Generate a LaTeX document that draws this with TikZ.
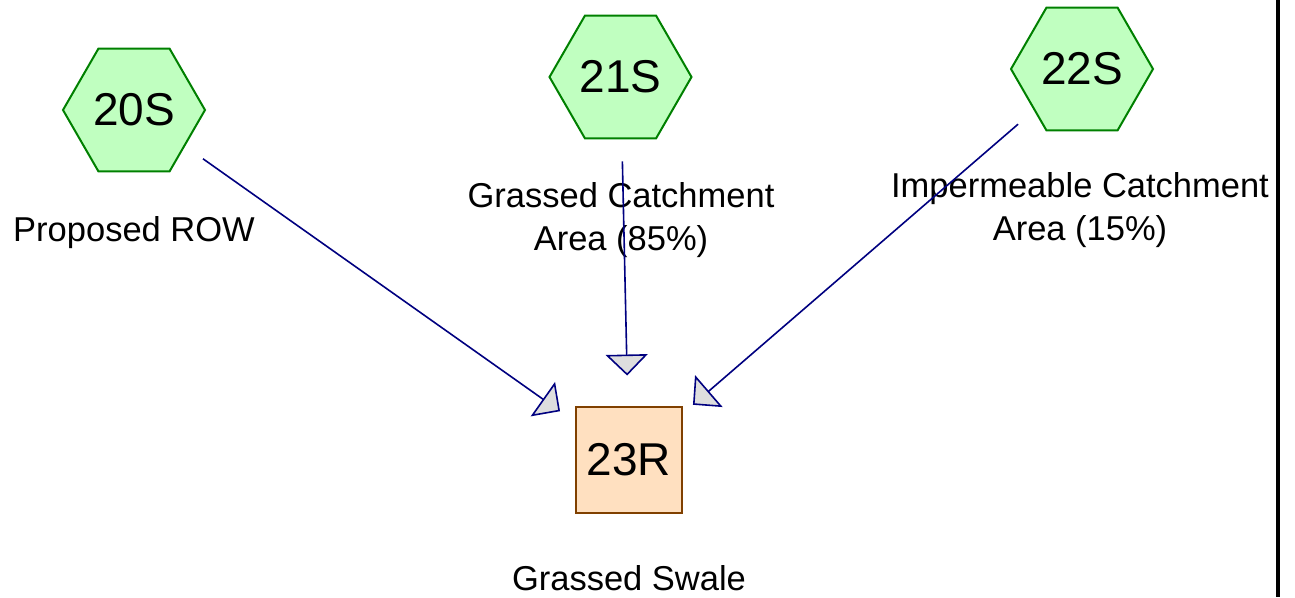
\documentclass[tikz,border=0pt]{standalone}
\usepackage{fontspec}
\setmainfont{Liberation Sans}
\usetikzlibrary{shapes.geometric,arrows.meta}

\definecolor{subfill}{HTML}{C0FFC0}
\definecolor{subdraw}{HTML}{008000}
\definecolor{reachfill}{HTML}{FFE0C0}
\definecolor{reachdraw}{HTML}{804000}
\definecolor{linkcol}{HTML}{000080}
\definecolor{tipfill}{HTML}{DEDEDE}

\tikzset{
  subcat/.style={regular polygon, regular polygon sides=6, minimum size=142pt,
    inner sep=0pt, fill=subfill, draw=subdraw, line width=2pt,
    font=\fontsize{46}{50}\selectfont},
  reach/.style={rectangle, minimum width=106pt, minimum height=106pt,
    inner sep=0pt, fill=reachfill, draw=reachdraw, line width=2pt,
    font=\fontsize{46}{50}\selectfont},
  caption/.style={anchor=base, align=center, inner sep=0pt,
    font=\fontsize{34.5}{43}\selectfont},
  flow/.style={draw=linkcol, line width=1.6pt, shorten <=84.5pt, shorten >=84.5pt,
    -{Triangle[width=42pt,length=21pt,fill=tipfill]}},
}

\begin{document}
\begin{tikzpicture}[x=1pt,y=-1pt]
  \path[fill=white] (0,0) rectangle (1295,597);
  \useasboundingbox (0,0) rectangle (1295,597);

  % page edge on the right
  \draw[line width=4pt] (1277.5,0) -- (1277.5,597);

  % subcatchments and the swale
  \node[subcat] (s20) at (134,110) {20S};
  \node[subcat] (s21) at (620.5,77) {21S};
  \node[subcat] (s22) at (1082,69) {22S};
  \node[reach]  (r23) at (629,460) {23R};

  % descriptions (base anchor sits on the last line)
  \node[caption] (l20) at (134,241.7) {Proposed ROW};
  \node[caption] (l21) at (621,250.3) {Grassed Catchment\\Area (85\%)};
  \node[caption] (l22) at (1080,240.3) {Impermeable Catchment\\Area (15\%)};
  \node[caption] (l23) at (629,590) {Grassed Swale};

  % routing links
  \draw[flow] (s20.center) -- (r23.center);
  \draw[flow] (s21.center) -- (r23.center);
  \draw[flow] (s22.center) -- (r23.center);
\end{tikzpicture}
\end{document}
